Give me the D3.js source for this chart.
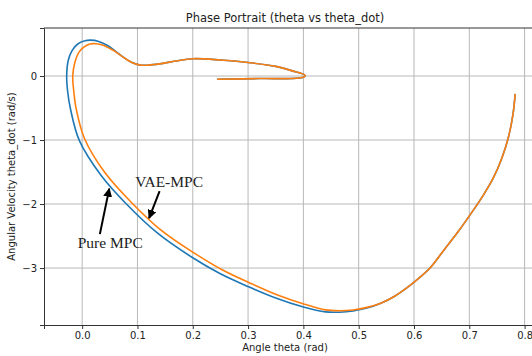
<!DOCTYPE html>
<html>
<head>
<meta charset="utf-8">
<script src="https://cdn.jsdelivr.net/npm/d3@7"></script>
<style>
  body { margin: 0; background: #fff; }
  text { font-family: "DejaVu Sans", sans-serif; fill: #222; }
</style>
</head>
<body>
<div id="chart"></div>
<script>
// Pure MPC trajectory (theta, theta_dot)
const pureTheta = [0.783, 0.779, 0.771, 0.759, 0.743, 0.724, 0.703, 0.680, 0.655, 0.629, 0.610, 0.590, 0.565, 0.540, 0.515, 0.490, 0.465, 0.440, 0.400, 0.350, 0.300, 0.249, 0.200, 0.137, 0.080, 0.034, -0.005, -0.021, -0.026, -0.028, -0.025, -0.018, -0.008, 0.005, 0.015, 0.030, 0.045, 0.060, 0.075, 0.090, 0.105, 0.120, 0.140, 0.170, 0.200, 0.250, 0.300, 0.350, 0.380, 0.403, 0.400, 0.320, 0.244];
const pureDot   = [-0.28, -0.60, -0.95, -1.28, -1.60, -1.88, -2.15, -2.43, -2.71, -3.00, -3.15, -3.29, -3.44, -3.55, -3.625, -3.67, -3.69, -3.685, -3.61, -3.47, -3.29, -3.086, -2.84, -2.46, -2.00, -1.55, -1.01, -0.52, -0.26, 0.00, 0.25, 0.40, 0.50, 0.55, 0.56, 0.54, 0.48, 0.39, 0.29, 0.21, 0.17, 0.17, 0.19, 0.235, 0.27, 0.25, 0.21, 0.15, 0.08, 0.01, -0.02, -0.04, -0.05];

// VAE-MPC trajectory (theta, theta_dot)
const vaeTheta = [0.783, 0.779, 0.771, 0.759, 0.743, 0.724, 0.703, 0.680, 0.655, 0.629, 0.610, 0.590, 0.565, 0.540, 0.515, 0.490, 0.465, 0.440, 0.402, 0.352, 0.303, 0.253, 0.205, 0.142, 0.086, 0.041, 0.004, -0.011, -0.015, -0.017, -0.013, -0.006, 0.003, 0.014, 0.025, 0.038, 0.050, 0.060, 0.075, 0.090, 0.105, 0.120, 0.140, 0.170, 0.200, 0.250, 0.300, 0.350, 0.380, 0.403, 0.400, 0.320, 0.244];
const vaeDot   = [-0.28, -0.60, -0.95, -1.28, -1.60, -1.88, -2.15, -2.43, -2.71, -3.00, -3.15, -3.29, -3.44, -3.55, -3.615, -3.655, -3.667, -3.654, -3.565, -3.417, -3.233, -3.027, -2.78, -2.404, -1.948, -1.509, -0.972, -0.505, -0.252, 0.00, 0.22, 0.37, 0.45, 0.50, 0.505, 0.48, 0.43, 0.38, 0.29, 0.21, 0.17, 0.17, 0.19, 0.235, 0.27, 0.25, 0.21, 0.15, 0.08, 0.01, -0.02, -0.04, -0.05];

const xTicks = [0.0, 0.1, 0.2, 0.3, 0.4, 0.5, 0.6, 0.7, 0.8];
const yTicks = [0, -1, -2, -3];

// annotations: label, text anchor, arrow tail, arrow head (data units)
const notes = [
  {label: "VAE-MPC", text: [0.096, -1.74], tail: [0.140, -1.8], head: [0.121, -2.22]},
  {label: "Pure MPC", text: [-0.008, -2.68], tail: [0.032, -2.47], head: [0.049, -1.76]}
];

const W = 532, H = 356;
const margin = {top: 28, right: -2, bottom: 31, left: 44};

const svg = d3.select("#chart").append("svg")
  .attr("width", W).attr("height", H);

const x = d3.scaleLinear().domain([-0.069, 0.817]).range([margin.left, W - margin.right]);
const y = d3.scaleLinear().domain([-3.89, 0.75]).range([H - margin.bottom, margin.top]);

// grid
const grid = svg.append("g");
grid.selectAll(".gx").data(xTicks).join("line")
  .attr("x1", d => x(d)).attr("x2", d => x(d))
  .attr("y1", margin.top).attr("y2", H - margin.bottom)
  .attr("stroke", "#b8b8b8").attr("stroke-width", 1);
grid.selectAll(".gy").data(yTicks).join("line")
  .attr("y1", d => y(d)).attr("y2", d => y(d))
  .attr("x1", margin.left).attr("x2", W)
  .attr("stroke", "#b8b8b8").attr("stroke-width", 1);

// axes
const fmtY = d => d === 0 ? "0" : "\u2212" + Math.abs(d);
const xAxis = svg.append("g")
  .attr("transform", `translate(0,${H - margin.bottom})`)
  .call(d3.axisBottom(x).tickValues(xTicks).tickFormat(d3.format(".1f")).tickSize(4).tickPadding(3));
const yAxis = svg.append("g")
  .attr("transform", `translate(${margin.left},0)`)
  .call(d3.axisLeft(y).tickValues(yTicks).tickFormat(fmtY).tickSize(4).tickPadding(3));
[xAxis, yAxis].forEach(a => {
  a.selectAll("text").style("font-size", "10px").style("font-family", "DejaVu Sans").attr("fill", "#222");
  a.selectAll("line").attr("stroke", "#333");
  a.select(".domain").attr("stroke", "#333");
});
// top spine
svg.append("line")
  .attr("x1", margin.left).attr("x2", W)
  .attr("y1", margin.top).attr("y2", margin.top)
  .attr("stroke", "#333");

// lines
const line = d3.line().x(d => x(d[0])).y(d => y(d[1])).curve(d3.curveCatmullRom.alpha(0.5));
const pure = pureTheta.map((t, i) => [t, pureDot[i]]);
const vae = vaeTheta.map((t, i) => [t, vaeDot[i]]);

svg.append("clipPath").attr("id", "clip").append("rect")
  .attr("x", margin.left).attr("y", margin.top)
  .attr("width", W - margin.left).attr("height", H - margin.top - margin.bottom);

const plot = svg.append("g").attr("clip-path", "url(#clip)");
plot.append("path").datum(pure).attr("d", line)
  .attr("fill", "none").attr("stroke", "#1f77b4").attr("stroke-width", 1.6);
plot.append("path").datum(vae).attr("d", line)
  .attr("fill", "none").attr("stroke", "#ff7f0e").attr("stroke-width", 1.6);

// titles
svg.append("text")
  .attr("x", (margin.left + W - margin.right) / 2 - 4).attr("y", 22)
  .attr("text-anchor", "middle").style("font-size", "11.5px")
  .text("Phase Portrait (theta vs theta_dot)");
svg.append("text")
  .attr("x", (margin.left + W - margin.right) / 2 - 4).attr("y", 351)
  .attr("text-anchor", "middle").style("font-size", "10px")
  .text("Angle theta (rad)");
svg.append("text")
  .attr("transform", `translate(15,${(margin.top + H - margin.bottom) / 2}) rotate(-90)`)
  .attr("text-anchor", "middle").style("font-size", "10px")
  .text("Angular Velocity theta_dot (rad/s)");

// annotations
svg.append("defs").append("marker")
  .attr("id", "arrow").attr("viewBox", "0 0 10 10")
  .attr("refX", 9).attr("refY", 5)
  .attr("markerWidth", 4.5).attr("markerHeight", 4.5)
  .attr("orient", "auto")
  .append("path").attr("d", "M0,0 L10,5 L0,10 z").attr("fill", "#000");

const ann = svg.append("g");
notes.forEach(n => {
  ann.append("text")
    .attr("x", x(n.text[0])).attr("y", y(n.text[1]))
    .style("font-family", "'Liberation Serif', serif").style("font-size", "15.5px")
    .attr("fill", "#000")
    .text(n.label);
  ann.append("line")
    .attr("x1", x(n.tail[0])).attr("y1", y(n.tail[1]))
    .attr("x2", x(n.head[0])).attr("y2", y(n.head[1]))
    .attr("stroke", "#000").attr("stroke-width", 2)
    .attr("marker-end", "url(#arrow)");
});
</script>
</body>
</html>
